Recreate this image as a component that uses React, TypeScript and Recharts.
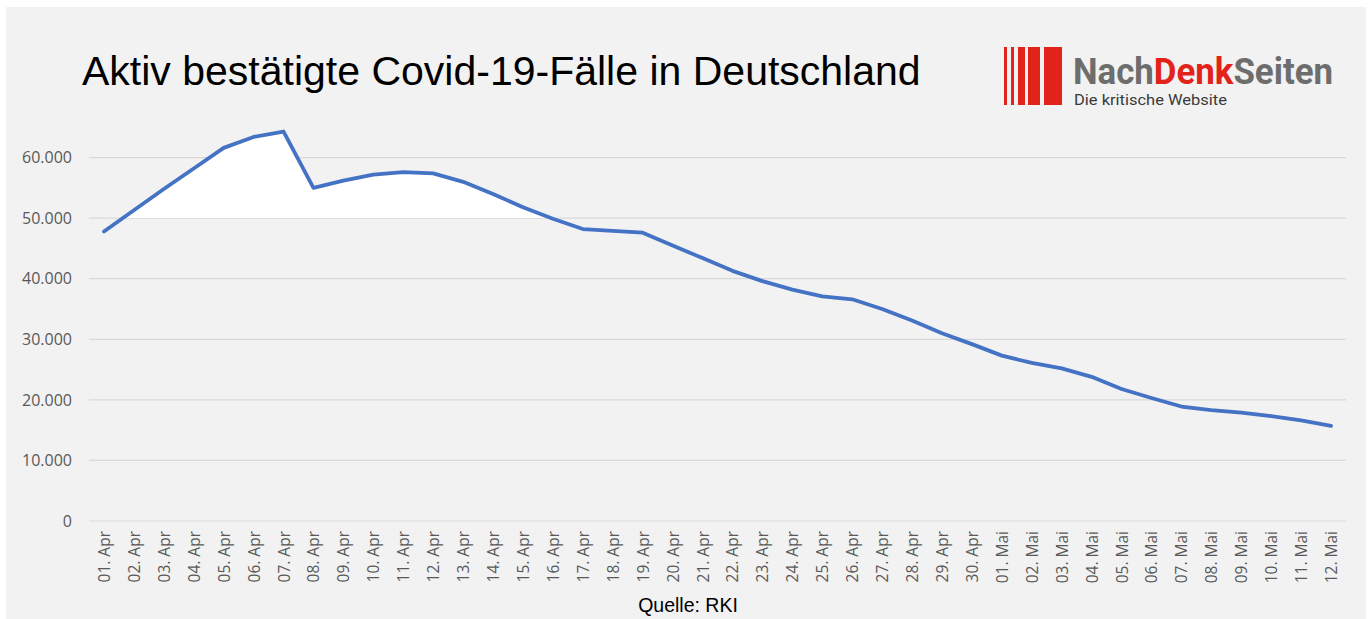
import { Area, CartesianGrid, ComposedChart, Line, XAxis, YAxis } from "recharts";

const DAYS = [
  "01. Apr", "02. Apr", "03. Apr", "04. Apr", "05. Apr", "06. Apr", "07. Apr",
  "08. Apr", "09. Apr", "10. Apr", "11. Apr", "12. Apr", "13. Apr", "14. Apr",
  "15. Apr", "16. Apr", "17. Apr", "18. Apr", "19. Apr", "20. Apr", "21. Apr",
  "22. Apr", "23. Apr", "24. Apr", "25. Apr", "26. Apr", "27. Apr", "28. Apr",
  "29. Apr", "30. Apr", "01. Mai", "02. Mai", "03. Mai", "04. Mai", "05. Mai",
  "06. Mai", "07. Mai", "08. Mai", "09. Mai", "10. Mai", "11. Mai", "12. Mai",
];

// aktive Fälle laut RKI
const ACTIVE = [
  47800, 51300, 54800, 58200, 61600, 63400, 64300,
  55000, 56200, 57200, 57600, 57400, 56000, 54000,
  51800, 49900, 48200, 47900, 47600, 45500, 43400,
  41300, 39600, 38200, 37100, 36600, 35000, 33100,
  31000, 29200, 27300, 26100, 25200, 23800, 21800,
  20300, 18900, 18300, 17900, 17300, 16600, 15700,
];

const Y_TICKS = [0, 10000, 20000, 30000, 40000, 50000, 60000];
const Y_MAX = 70000;
const HIGHLIGHT_BASE = 50000; // weiße Fläche über dieser Linie

const data = DAYS.map((day, i) => ({ day, active: ACTIVE[i] }));

// Anteil der Fläche (von oben) der über HIGHLIGHT_BASE liegt
const maxV = Math.max(...ACTIVE);
const minV = Math.min(...ACTIVE, HIGHLIGHT_BASE);
const cut = (maxV - HIGHLIGHT_BASE) / (maxV - minV);

const fmt = (v: number) => String(v).replace(/\B(?=(\d{3})+(?!\d))/g, ".");

function DayTick({ x, y, payload }: any) {
  return (
    <text
      x={x}
      y={y}
      transform={`rotate(-90 ${x} ${y})`}
      textAnchor="end"
      dominantBaseline="central"
      fill="#595959"
      fontSize={15.5}
      fontFamily="Open Sans"
    >
      {payload.value}
    </text>
  );
}

export default function App() {
  return (
    <div style={{ position: "absolute", left: 0, top: 0, width: 1370, height: 619, background: "#fff" }}>
      <div style={{ position: "absolute", left: 6, top: 7, width: 1360, height: 612, background: "#f2f2f2" }} />
      <div style={{ position: "absolute", left: 0, top: 0 }}>
        <ComposedChart
          width={1370}
          height={619}
          data={data}
          margin={{ top: 97, right: 24, bottom: 8, left: 9 }}
        >
          <defs>
            <linearGradient id="whiteAbove" x1="0" y1="0" x2="0" y2="1">
              <stop offset={0} stopColor="#ffffff" stopOpacity={1} />
              <stop offset={cut} stopColor="#ffffff" stopOpacity={1} />
              <stop offset={cut} stopColor="#ffffff" stopOpacity={0} />
              <stop offset={1} stopColor="#ffffff" stopOpacity={0} />
            </linearGradient>
          </defs>
          <CartesianGrid
            vertical={false}
            stroke="#d9d9d9"
            strokeWidth={1.2}
            horizontalCoordinatesGenerator={({ offset }: any) =>
              Y_TICKS.map((t) => offset.top + offset.height * (1 - t / Y_MAX))
            }
          />
          <XAxis
            dataKey="day"
            scale="band"
            interval={0}
            height={90}
            axisLine={false}
            tickLine={false}
            tickMargin={4}
            tick={<DayTick />}
          />
          <YAxis
            width={80}
            domain={[0, Y_MAX]}
            ticks={Y_TICKS}
            axisLine={false}
            tickLine={false}
            tickMargin={11}
            tickFormatter={fmt}
            tick={{ fill: "#595959", fontSize: 16, fontFamily: "Open Sans" }}
          />
          <Area
            dataKey="active"
            baseValue={HIGHLIGHT_BASE}
            stroke="none"
            fill="url(#whiteAbove)"
            fillOpacity={1}
            isAnimationActive={false}
          />
          <Line
            type="linear"
            dataKey="active"
            stroke="#4472c4"
            strokeWidth={3.8}
            strokeLinejoin="round"
            strokeLinecap="round"
            dot={false}
            isAnimationActive={false}
          />
        </ComposedChart>
      </div>
      <svg
        width={1370}
        height={619}
        style={{ position: "absolute", left: 0, top: 0, pointerEvents: "none" }}
      >
        <text x={82} y={85} fontSize={41} fontFamily="Liberation Sans" fill="#000">
          Aktiv bestätigte Covid-19-Fälle in Deutschland
        </text>
        <text x={688} y={612} fontSize={19.5} fontFamily="Liberation Sans" fill="#000" textAnchor="middle">
          Quelle: RKI
        </text>
        <g fill="#e2231a">
          <rect x={1004} y={47} width={3} height={58} />
          <rect x={1011} y={47} width={3} height={58} />
          <rect x={1018} y={47} width={7} height={58} />
          <rect x={1028} y={47} width={12} height={58} />
          <rect x={1044} y={47} width={18} height={58} />
        </g>
        <text
          x={1073}
          y={84}
          fontSize={37}
          fontWeight="bold"
          fontFamily="Roboto"
          fill="#6d6d6d"
          textLength={260}
          lengthAdjust="spacingAndGlyphs"
        >
          Nach<tspan fill="#e2231a">Denk</tspan>Seiten
        </text>
        <text
          x={1074}
          y={105}
          fontSize={15.5}
          fontFamily="Roboto"
          fill="#3a3a3a"
          textLength={153}
          lengthAdjust="spacingAndGlyphs"
        >
          Die kritische Website
        </text>
      </svg>
    </div>
  );
}
